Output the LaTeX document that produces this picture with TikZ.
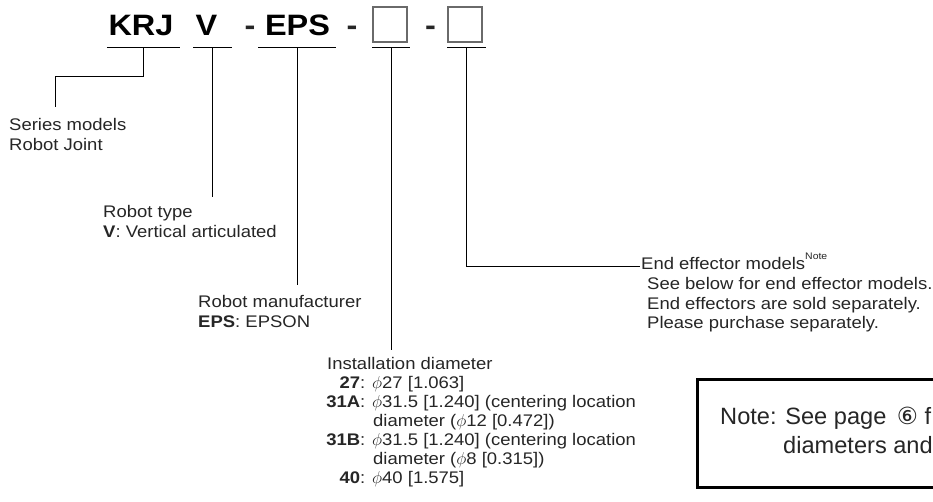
\documentclass[tikz,border=0pt]{standalone}
\usepackage{fontspec}
\setmainfont{Liberation Sans}[FakeStretch=1.1]
\newfontfamily\plainsans{Liberation Sans}
\newfontfamily\symfont{DejaVu Sans}
\definecolor{txt}{HTML}{262626}
\definecolor{boxgray}{HTML}{6A6A6A}
\begin{document}
\begin{tikzpicture}[x=1pt,y=-1pt,
  lbl/.style={anchor=base west, inner sep=0pt, text=txt, font=\fontsize{16.8}{19.5}\selectfont},
  notetxt/.style={anchor=base west, inner sep=0pt, text=txt, font=\plainsans\fontsize{23.6}{25}\selectfont},
  code/.style={anchor=base, inner sep=0pt, text=black, font=\fontsize{29.5}{30}\selectfont\bfseries},
  hyph/.style={anchor=base, inner sep=0pt, text=txt, font=\fontsize{29.5}{30}\selectfont\bfseries},
  uline/.style={inner sep=0pt, minimum height=0pt, minimum width=#1},
  conn/.style={draw=black, line width=0.9pt},
  emptybox/.style={draw=boxgray, line width=1.3pt, minimum width=34pt, minimum height=35pt, inner sep=0pt},
  notebox/.style={draw=black, line width=3.2pt, anchor=north west, minimum width=300pt, minimum height=108.5pt, inner sep=0pt},
]
\clip (0,0) rectangle (933,502);
\fill[white] (0,0) rectangle (933,502);

% model code
\node[code] (tkrj) at (141,36) {KRJ};
\node[code] (tv) at (206.5,36) {V};
\node[hyph] (h1) at (250,36) {-};
\node[code] (teps) at (297.5,36) {EPS};
\node[hyph] (h2) at (352,36) {-};
\node[emptybox] (b1) at (390,24.5) {};
\node[hyph] (h3) at (430.5,36) {-};
\node[emptybox] (b2) at (465,24.5) {};

% underlines
\node[uline=73pt] (ukrj) at (143.5,47.5) {};
\node[uline=38pt] (uv) at (212.5,47.5) {};
\node[uline=77pt] (ueps) at (297,47.5) {};
\node[uline=37pt] (ub1) at (391,47.5) {};
\node[uline=38pt] (ub2) at (466.5,47.5) {};
\foreach \u in {ukrj,uv,ueps,ub1,ub2}
  \draw[conn] (\u.west) -- (\u.east);

% connector ends
\coordinate (kbend) at (55,76);
\coordinate (kend) at (55,107);
\coordinate (vend) at (212.5,197);
\coordinate (eend) at (297,285);
\coordinate (b1end) at (391,350);
\coordinate (b2end) at (640,266);

\draw[conn] (ukrj.center) |- (kbend) -- (kend);
\draw[conn] (uv.center) -- (vend);
\draw[conn] (ueps.center) -- (eend);
\draw[conn] (ub1.center) -- (b1end);
\draw[conn] (ub2.center) |- (b2end);

% labels
\node[lbl] (ser1) at (9,131) {Series models};
\node[lbl] (ser2) at (9,151) {Robot Joint};

\node[lbl] (typ1) at (103,218) {Robot type};
\node[lbl] (typ2) at (103,238) {\textbf{V}: Vertical articulated};

\node[lbl] (man1) at (198,307) {Robot manufacturer};
\node[lbl] (man2) at (198,327) {\textbf{EPS}: EPSON};

\node[lbl] (ins0) at (327,369) {Installation diameter};
\node[lbl] (ins1) at (327,388) {\makebox[33pt][r]{\textbf{27}}: $\phi$27 [1.063]};
\node[lbl] (ins2) at (327,407) {\makebox[33pt][r]{\textbf{31A}}: $\phi$31.5 [1.240] (centering location};
\node[lbl] (ins3) at (373,426) {diameter ($\phi$12 [0.472])};
\node[lbl] (ins4) at (327,445) {\makebox[33pt][r]{\textbf{31B}}: $\phi$31.5 [1.240] (centering location};
\node[lbl] (ins5) at (373,464) {diameter ($\phi$8 [0.315])};
\node[lbl] (ins6) at (327,483) {\makebox[33pt][r]{\textbf{40}}: $\phi$40 [1.575]};

\node[lbl] (eff0) at (641,270) {End effector models\raisebox{10pt}{\fontsize{9.5}{10}\selectfont Note}};
\node[lbl] (eff1) at (647,290) {See below for end effector models.};
\node[lbl] (eff2) at (647,309) {End effectors are sold separately.};
\node[lbl] (eff3) at (647,328) {Please purchase separately.};

% note box
\node[notebox] (note) at (695.5,377.5) {};
\node[notetxt] (note1) at (720,424) {Note: See page\hspace{4pt} {\symfont ⑥} f};
\node[notetxt] (note2) at (783,453) {diameters and};
\end{tikzpicture}
\end{document}
